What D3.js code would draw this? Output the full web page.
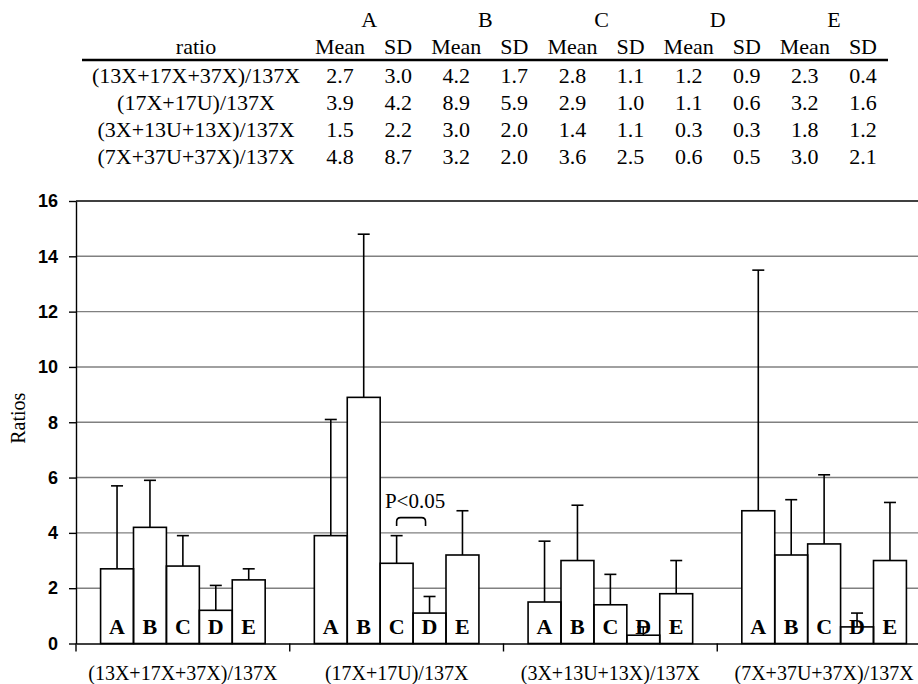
<!DOCTYPE html>
<html>
<head>
<meta charset="utf-8">
<script src="https://cdn.jsdelivr.net/npm/d3@7"></script>
<style>
  body { margin: 0; background: #fff; }
  svg { display: block; }
  .serif { font-family: "Liberation Serif", "Times New Roman", serif; }
</style>
</head>
<body>
<div id="chart"></div>
<script>
// ratio rows / bar groups
var ratios = ["(13X+17X+37X)/137X", "(17X+17U)/137X", "(3X+13U+13X)/137X", "(7X+37U+37X)/137X"];
var groups = ["A", "B", "C", "D", "E"];
var stats = ["Mean", "SD"];

// Mean and SD per ratio row, columns A..E
var means = [
	[2.7, 4.2, 2.8, 1.2, 2.3],
	[3.9, 8.9, 2.9, 1.1, 3.2],
	[1.5, 3.0, 1.4, 0.3, 1.8],
	[4.8, 3.2, 3.6, 0.6, 3.0]
];
var sds = [
	[3.0, 1.7, 1.1, 0.9, 0.4],
	[4.2, 5.9, 1.0, 0.6, 1.6],
	[2.2, 2.0, 1.1, 0.3, 1.2],
	[8.7, 2.0, 2.5, 0.5, 2.1]
];

var yTicks = [0, 2, 4, 6, 8, 10, 12, 14, 16];

// significance bracket: row, from, to, label
var sigRow = "(17X+17U)/137X";
var sigPair = ["C", "D"];
var sigLabel = "P<0.05";

var width = 918, height = 684;

var svg = d3.select("#chart").append("svg")
	.attr("width", width)
	.attr("height", height);

/* ---------- table ---------- */
var tbl = svg.append("g").attr("class", "serif")
	.style("font-size", "22px")
	.attr("fill", "#000");

var tx = d3.scaleBand().domain(groups).range([311, 892]);
var txs = d3.scalePoint().domain(stats).range([0, tx.bandwidth()]).padding(0.5);
var ratioX = 196;
var rowY = d3.scalePoint().domain(ratios).range([83, 164]);

tbl.selectAll(".grp").data(groups).enter().append("text")
	.attr("x", function (d) { return tx(d) + tx.bandwidth() / 2; })
	.attr("y", 27)
	.attr("text-anchor", "middle")
	.text(function (d) { return d; });

tbl.append("text")
	.attr("x", ratioX).attr("y", 54)
	.attr("text-anchor", "middle")
	.text("ratio");

groups.forEach(function (g) {
	stats.forEach(function (s) {
		tbl.append("text")
			.attr("x", tx(g) + txs(s)).attr("y", 54)
			.attr("text-anchor", "middle")
			.text(s);
	});
});

tbl.append("line")
	.attr("x1", 82).attr("x2", 888)
	.attr("y1", 60).attr("y2", 60)
	.attr("stroke", "#000").attr("stroke-width", 2.5);

ratios.forEach(function (r, i) {
	tbl.append("text")
		.attr("x", ratioX).attr("y", rowY(r))
		.attr("text-anchor", "middle")
		.text(r);
	groups.forEach(function (g, j) {
		tbl.append("text")
			.attr("x", tx(g) + txs("Mean")).attr("y", rowY(r))
			.attr("text-anchor", "middle")
			.text(means[i][j].toFixed(1));
		tbl.append("text")
			.attr("x", tx(g) + txs("SD")).attr("y", rowY(r))
			.attr("text-anchor", "middle")
			.text(sds[i][j].toFixed(1));
	});
});

/* ---------- chart ---------- */
var plotL = 76, plotR = 931, plotT = 201, plotB = 643.5;

var x0 = d3.scaleBand().domain(ratios).range([plotL, plotR])
	.paddingInner(0.23).paddingOuter(0.115);
var x1 = d3.scaleBand().domain(groups).range([0, x0.bandwidth()]);
var y = d3.scaleLinear().domain([0, 16]).range([plotB, plotT]);

var chart = svg.append("g");

// gridlines
chart.selectAll(".grid").data(yTicks.filter(function (d) { return d > 0 && d < 16; }))
	.enter().append("line")
	.attr("x1", plotL).attr("x2", plotR)
	.attr("y1", function (d) { return y(d); })
	.attr("y2", function (d) { return y(d); })
	.attr("stroke", "#808080").attr("stroke-width", 1.4);

chart.append("line")
	.attr("x1", plotL).attr("x2", plotR)
	.attr("y1", y(16)).attr("y2", y(16))
	.attr("stroke", "#000").attr("stroke-width", 1.4);

// flatten bars
var bars = [];
ratios.forEach(function (r, i) {
	groups.forEach(function (g, j) {
		bars.push({ ratio: r, group: g, mean: means[i][j], sd: sds[i][j] });
	});
});
function bx(d) { return x0(d.ratio) + x1(d.group); }

chart.selectAll(".barfill").data(bars).enter().append("rect")
	.attr("x", bx)
	.attr("y", function (d) { return y(d.mean); })
	.attr("width", x1.bandwidth())
	.attr("height", function (d) { return y(0) - y(d.mean); })
	.attr("fill", "#fff");

chart.selectAll(".letter").data(bars).enter().append("text")
	.attr("class", "serif")
	.attr("x", function (d) { return bx(d) + x1.bandwidth() / 2; })
	.attr("y", 634)
	.attr("text-anchor", "middle")
	.style("font-size", "22px")
	.style("font-weight", "bold")
	.text(function (d) { return d.group; });

chart.selectAll(".barline").data(bars).enter().append("rect")
	.attr("x", bx)
	.attr("y", function (d) { return y(d.mean); })
	.attr("width", x1.bandwidth())
	.attr("height", function (d) { return y(0) - y(d.mean); })
	.attr("fill", "none")
	.attr("stroke", "#000").attr("stroke-width", 1.6);

// error bars
var cap = 6;
var err = chart.selectAll(".err").data(bars).enter().append("g")
	.attr("stroke", "#000").attr("stroke-width", 1.6);
err.append("line")
	.attr("x1", function (d) { return bx(d) + x1.bandwidth() / 2; })
	.attr("x2", function (d) { return bx(d) + x1.bandwidth() / 2; })
	.attr("y1", function (d) { return y(d.mean); })
	.attr("y2", function (d) { return y(d.mean + d.sd); });
err.append("line")
	.attr("x1", function (d) { return bx(d) + x1.bandwidth() / 2 - cap; })
	.attr("x2", function (d) { return bx(d) + x1.bandwidth() / 2 + cap; })
	.attr("y1", function (d) { return y(d.mean + d.sd); })
	.attr("y2", function (d) { return y(d.mean + d.sd); });

// y axis
var yAxis = d3.axisLeft(y).tickValues(yTicks).tickSize(7).tickSizeOuter(0).tickPadding(11);
var gy = chart.append("g")
	.attr("transform", "translate(" + plotL + ",0)")
	.call(yAxis);
gy.selectAll("text")
	.style("font-family", "'Liberation Sans', Arial, sans-serif")
	.style("font-weight", "bold")
	.style("font-size", "18px")
	.attr("fill", "#000");
gy.selectAll("line, path").attr("stroke", "#000").attr("stroke-width", 1.4);

// x axis
var xAxis = d3.axisBottom(x0).tickSize(0).tickSizeOuter(0).tickPadding(22);
var gx = chart.append("g")
	.attr("transform", "translate(0," + plotB + ")")
	.call(xAxis);
gx.selectAll("text")
	.attr("class", "serif")
	.style("font-size", "20px")
	.attr("fill", "#000");
gx.select(".domain").attr("stroke", "#000").attr("stroke-width", 1.4);

// category boundary ticks
var bounds = ratios.map(function (r) { return x0(r) - x0.step() * x0.paddingInner() / 2; });
chart.selectAll(".xtick").data(bounds).enter().append("line")
	.attr("x1", function (d) { return d; }).attr("x2", function (d) { return d; })
	.attr("y1", plotB).attr("y2", plotB + 8)
	.attr("stroke", "#000").attr("stroke-width", 1.4);

// y label
svg.append("text")
	.attr("class", "serif")
	.attr("transform", "translate(25," + ((plotT + plotB) / 2 - 4) + ") rotate(-90)")
	.attr("text-anchor", "middle")
	.style("font-size", "20px")
	.text("Ratios");

// significance bracket
var sx1 = x0(sigRow) + x1(sigPair[0]) + x1.bandwidth() / 2;
var sx2 = x0(sigRow) + x1(sigPair[1]) + x1.bandwidth() / 2 - 4;
var sTop = y(4.55), sLeg = y(4.25), rr = 4;
chart.append("path")
	.attr("d", "M" + sx1 + "," + sLeg + "V" + (sTop + rr) + "Q" + sx1 + "," + sTop + " " + (sx1 + rr) + "," + sTop +
		"H" + (sx2 - rr) + "Q" + sx2 + "," + sTop + " " + sx2 + "," + (sTop + rr) + "V" + sLeg)
	.attr("fill", "none").attr("stroke", "#000").attr("stroke-width", 1.6);
chart.append("text")
	.attr("class", "serif")
	.attr("x", (sx1 + sx2) / 2 + 4)
	.attr("y", y(4.9))
	.attr("text-anchor", "middle")
	.style("font-size", "21px")
	.text(sigLabel);
</script>
</body>
</html>
